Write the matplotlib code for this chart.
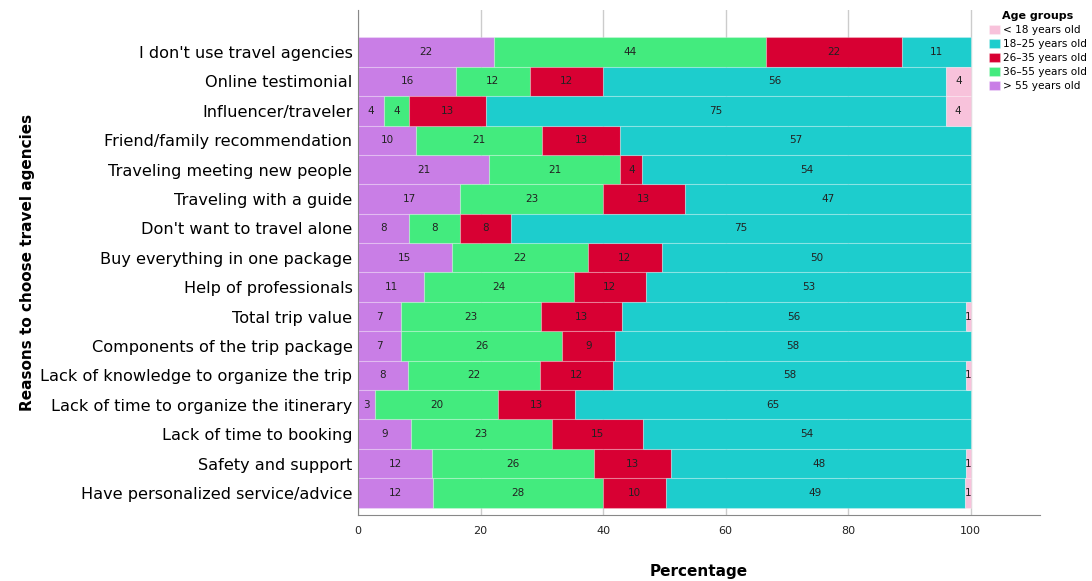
import matplotlib
matplotlib.use('Agg')
import matplotlib.pyplot as plt
import numpy as np

reasons = [
    "I don't use travel agencies",
    "Online testimonial",
    "Influencer/traveler",
    "Friend/family recommendation",
    "Traveling meeting new people",
    "Traveling with a guide",
    "Don't want to travel alone",
    "Buy everything in one package",
    "Help of professionals",
    "Total trip value",
    "Components of the trip package",
    "Lack of knowledge to organize the trip",
    "Lack of time to organize the itinerary",
    "Lack of time to booking",
    "Safety and support",
    "Have personalized service/advice",
]

# percentages per age group, same order as reasons
over_55 = [22.2, 16.0, 4.2, 9.5, 21.4, 16.7, 8.3, 15.3, 10.8, 7.0, 7.0, 8.1, 2.8, 8.6, 12.1, 12.2]
age_36_55 = [44.4, 12.0, 4.2, 20.6, 21.4, 23.3, 8.3, 22.2, 24.4, 22.9, 26.3, 21.6, 20.0, 23.0, 26.4, 27.8]
age_26_35 = [22.2, 12.0, 12.5, 12.7, 3.6, 13.3, 8.4, 12.1, 11.8, 13.2, 8.6, 11.9, 12.6, 14.9, 12.6, 10.2]
age_18_25 = [11.2, 56.0, 75.0, 57.2, 53.6, 46.7, 75.0, 50.4, 53.0, 56.2, 58.1, 57.7, 64.6, 53.5, 48.2, 48.8]
under_18 = [0, 4.0, 4.1, 0, 0, 0, 0, 0, 0, 0.7, 0, 0.7, 0, 0, 0.7, 1.0]

groups = [
    ("> 55 years old", over_55, "#C97EE6"),
    ("36\u201355 years old", age_36_55, "#43EB7E"),
    ("26\u201335 years old", age_26_35, "#D80033"),
    ("18\u201325 years old", age_18_25, "#1DCDCD"),
    ("< 18 years old", under_18, "#F8C2DB"),
]

fig = plt.figure(figsize=(10.92, 5.81), dpi=100)
ax = fig.add_axes([358 / 1092, 66 / 581, 682 / 1092, 505 / 581])

y = np.arange(len(reasons))
left = np.zeros(len(reasons))
handles = {}
for name, vals, col in groups:
    vals = np.array(vals)
    bars = ax.barh(y, vals, left=left, height=1.0, color=col,
                   edgecolor=(1, 1, 1, 0.25), linewidth=0.8, zorder=2)
    handles[name] = bars
    for yi, v, l in zip(y, vals, left):
        if v > 0:
            ax.text(l + v / 2, yi, str(int(v + 0.5)), ha='center', va='center',
                    fontsize=7.5, color='#222222', zorder=3)
    left += vals

ax.set_xlim(0, 111.3)
ax.set_ylim(15.75, -1.43)
ax.set_xticks([0, 20, 40, 60, 80, 100])
ax.set_yticks(y)
ax.set_yticklabels(reasons, fontsize=11.6)
ax.tick_params(axis='x', labelsize=8, length=0, pad=8, colors='#222222')
ax.tick_params(axis='y', length=0, pad=4)
ax.grid(axis='x', color='#cccccc', linewidth=1, zorder=0)
for s in ['top', 'right']:
    ax.spines[s].set_visible(False)
ax.spines['left'].set_color('#888888')
ax.spines['bottom'].set_color('#888888')

ax.set_xlabel("Percentage", fontsize=11, fontweight='bold', labelpad=20)
ax.set_ylabel("Reasons to choose travel agencies", fontsize=11, fontweight='bold', labelpad=4)

order = ["< 18 years old", "18\u201325 years old", "26\u201335 years old",
         "36\u201355 years old", "> 55 years old"]
leg = fig.legend([handles[n] for n in order], order, loc='upper left',
                 bbox_to_anchor=(989 / 1092, 1 - 11 / 581), frameon=False,
                 fontsize=7.6, title="Age groups", handlelength=1.0,
                 handleheight=1.0, handletextpad=0.3, labelspacing=0.35,
                 borderaxespad=0, borderpad=0)
leg.get_title().set_fontweight('bold')
leg.get_title().set_fontsize(8)

fig.savefig("out.png", dpi=100)
